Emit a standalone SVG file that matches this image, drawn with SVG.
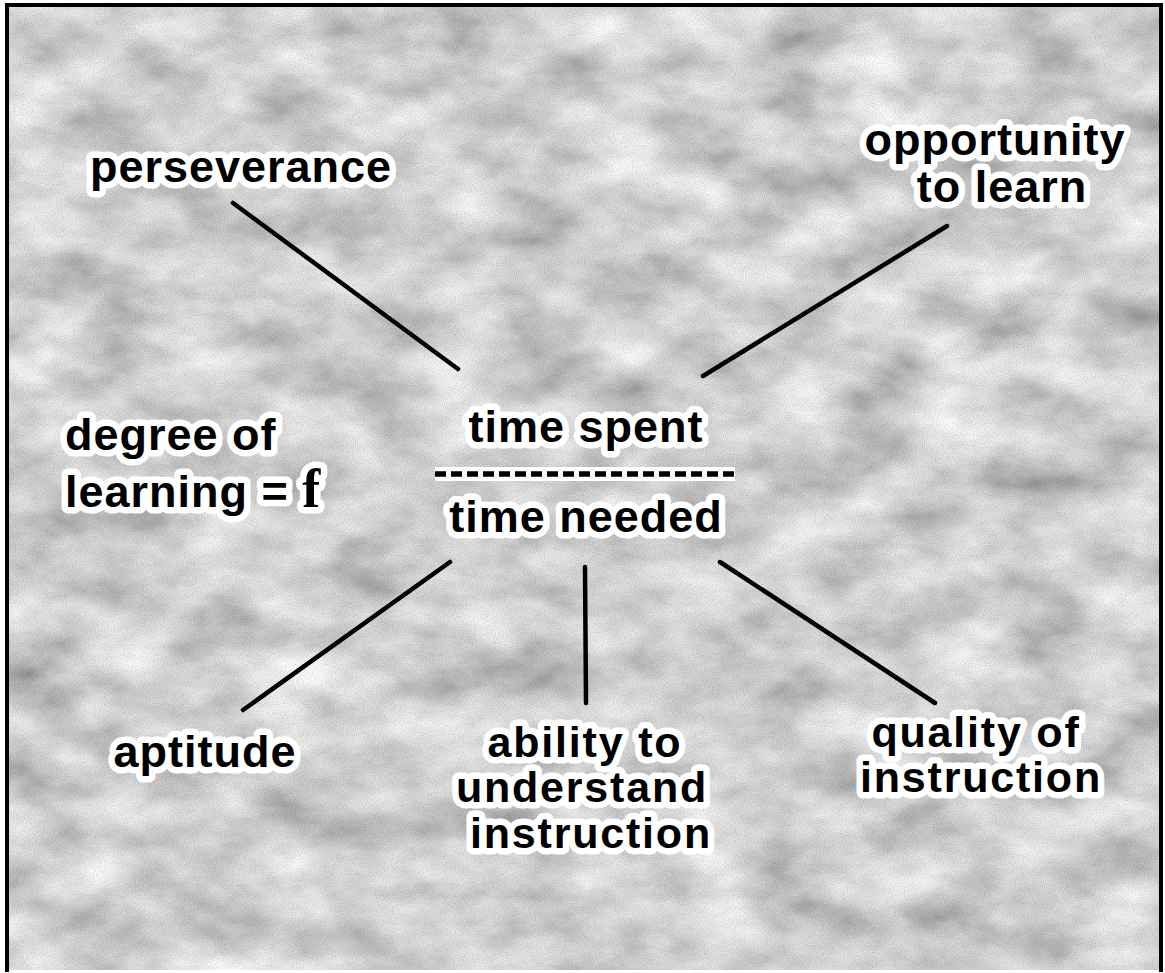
<svg xmlns="http://www.w3.org/2000/svg" width="1165" height="973" viewBox="0 0 1165 973">
<defs>
<filter id="mottle" x="0" y="0" width="100%" height="100%">
<feTurbulence type="fractalNoise" baseFrequency="0.012 0.02" numOctaves="4" seed="7" result="n"/>
<feColorMatrix in="n" type="matrix" values="0.9 0 0 0 0.24  0.9 0 0 0 0.24  0.9 0 0 0 0.24  0 0 0 0 1"/>
</filter>
<filter id="grain" x="0" y="0" width="100%" height="100%">
<feTurbulence type="fractalNoise" baseFrequency="0.9" numOctaves="1" seed="3" result="g"/>
<feColorMatrix in="g" type="matrix" values="0 0 0 0 0  0 0 0 0 0  0 0 0 0 0  -1.4 0 0 0 0.9"/>
</filter>
</defs>
<style>
.lbl{font-family:"Liberation Sans",Arial,sans-serif;font-weight:bold;font-size:45px;letter-spacing:1px;fill:#000;stroke:#fff;stroke-width:13px;stroke-linejoin:round;paint-order:stroke}
.tight{font-size:43px;letter-spacing:1.8px}
.f{font-family:"Liberation Serif","Times New Roman",serif;font-weight:bold;font-size:54px;letter-spacing:0}
.con{stroke:#000;stroke-width:4.5;stroke-linecap:round;fill:none}
</style>
<rect x="0" y="0" width="1165" height="973" fill="#ffffff"/>
<rect x="7" y="5" width="1155" height="965" fill="#b4b4b4" filter="url(#mottle)"/>
<rect x="7" y="5" width="1155" height="965" fill="#000" opacity="0.22" filter="url(#grain)"/>
<path d="M7 972 V5 H1161 V972" fill="none" stroke="#000" stroke-width="4"/>
<g id="connectors">
<line class="con" x1="233" y1="203" x2="458" y2="369"/>
<line class="con" x1="947" y1="226" x2="703" y2="376"/>
<line class="con" x1="450" y1="562" x2="243" y2="710"/>
<line class="con" x1="585" y1="567" x2="586" y2="703"/>
<line class="con" x1="720" y1="562" x2="935" y2="703"/>
</g>
<g id="perseverance"><text class="lbl" x="241" y="182" text-anchor="middle">perseverance</text></g>
<g id="opportunity"><text class="lbl" text-anchor="middle"><tspan x="995" y="155">opportunity</tspan><tspan x="1002" y="202">to learn</tspan></text></g>
<g id="degree"><text class="lbl"><tspan x="65" y="450">degree of</tspan><tspan x="65" y="507">learning = </tspan><tspan class="f">f</tspan></text></g>
<g id="fraction">
<text class="lbl" x="586" y="442" text-anchor="middle">time spent</text>
<line x1="435" y1="474" x2="735" y2="474" stroke="#fff" stroke-width="14"/>
<line x1="435" y1="474" x2="735" y2="474" stroke="#000" stroke-width="5.5" stroke-dasharray="11 5"/>
<text class="lbl" x="586" y="532" text-anchor="middle">time needed</text>
</g>
<g id="aptitude"><text class="lbl" x="205" y="767" text-anchor="middle">aptitude</text></g>
<g id="ability"><text class="lbl tight" text-anchor="middle"><tspan x="585" y="757">ability to</tspan><tspan x="582" y="802">understand</tspan><tspan x="591" y="848">instruction</tspan></text></g>
<g id="quality"><text class="lbl tight" text-anchor="middle"><tspan x="976" y="747">quality of</tspan><tspan x="981" y="792">instruction</tspan></text></g>
</svg>
